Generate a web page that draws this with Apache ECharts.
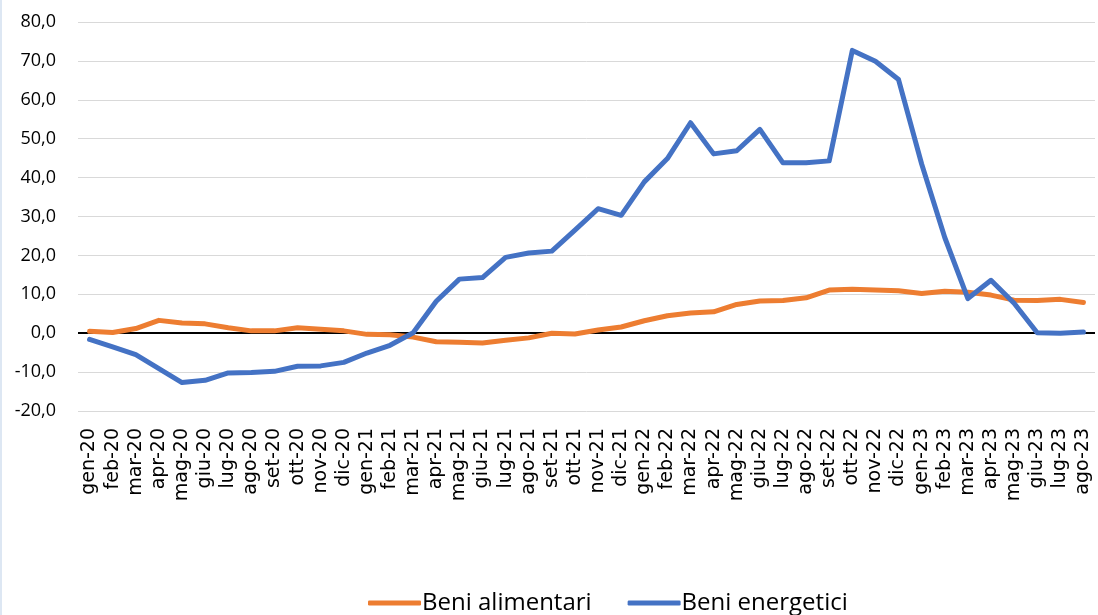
<!DOCTYPE html>
<html>
<head>
<meta charset="utf-8">
<title>Beni alimentari e energetici</title>
<script src="https://cdn.jsdelivr.net/npm/echarts@6/dist/echarts.min.js"></script>
<style>
  html, body { margin: 0; padding: 0; background: #fff; }
  #chart { width: 1098px; height: 615px; }
</style>
</head>
<body>
<div id="chart"></div>
<script>
// mesi da gen-20 a ago-23
const mesi = [
  "gen-20", "feb-20", "mar-20", "apr-20", "mag-20", "giu-20", "lug-20", "ago-20", "set-20", "ott-20", "nov-20", "dic-20",
  "gen-21", "feb-21", "mar-21", "apr-21", "mag-21", "giu-21", "lug-21", "ago-21", "set-21", "ott-21", "nov-21", "dic-21",
  "gen-22", "feb-22", "mar-22", "apr-22", "mag-22", "giu-22", "lug-22", "ago-22", "set-22", "ott-22", "nov-22", "dic-22",
  "gen-23", "feb-23", "mar-23", "apr-23", "mag-23", "giu-23", "lug-23", "ago-23"
];

const beniAlimentari = [
  0.5, 0.2, 1.2, 3.3, 2.6, 2.4, 1.4, 0.6, 0.6, 1.4, 1.0, 0.6,
  -0.3, -0.4, -1.0, -2.2, -2.3, -2.5, -1.8, -1.2, 0.0, -0.2, 0.8, 1.6,
  3.2, 4.5, 5.2, 5.5, 7.4, 8.3, 8.4, 9.1, 11.1, 11.3, 11.1, 10.9,
  10.2, 10.8, 10.5, 9.8, 8.5, 8.4, 8.7, 7.9
];

const beniEnergetici = [
  -1.6, -3.5, -5.5, -9.1, -12.7, -12.1, -10.2, -10.1, -9.8, -8.5, -8.4, -7.5,
  -5.1, -3.1, 0.1, 8.2, 13.9, 14.3, 19.5, 20.6, 21.1, 26.5, 32.0, 30.3,
  38.9, 44.9, 54.1, 46.1, 46.9, 52.4, 43.8, 43.8, 44.3, 72.7, 69.9, 65.2,
  43.5, 24.6, 8.9, 13.6, 7.7, 0.1, 0.0, 0.3
];

const chart = echarts.init(document.getElementById("chart"));

const option = {
  backgroundColor: "#ffffff",
  animation: false,
  color: ["#ED7D31", "#4472C4"],
  graphic: [
    {
      type: "rect",
      left: 0,
      top: 0,
      shape: { width: 2, height: 615 },
      style: { fill: "#dde7f3" },
      silent: true
    }
  ],
  grid: {
    left: 78,
    right: 3,
    top: 22,
    bottom: 204
  },
  legend: {
    bottom: -5,
    left: 363,
    icon: "roundRect",
    itemWidth: 53,
    itemHeight: 5,
    itemGap: 36,
    textStyle: {
      fontFamily: "Open Sans",
      fontSize: 24,
      color: "#000000",
      padding: [0, 0, 0, -4]
    },
    data: ["Beni alimentari", "Beni energetici"]
  },
  xAxis: {
    type: "category",
    data: mesi,
    boundaryGap: true,
    axisLine: { show: false },
    axisTick: { show: false },
    axisLabel: {
      interval: 0,
      rotate: 90,
      margin: 17,
      fontFamily: "DejaVu Sans",
      fontSize: 19,
      color: "#000000"
    },
    splitLine: { show: false }
  },
  yAxis: {
    type: "value",
    min: -20,
    max: 80,
    interval: 10,
    axisLine: { show: false },
    axisTick: { show: false },
    axisLabel: {
      margin: 22,
      fontFamily: "Open Sans",
      fontSize: 18,
      color: "#000000",
      formatter: (v) => v.toFixed(1).replace(".", ",")
    },
    splitLine: { lineStyle: { color: "#d9d9d9", width: 1 } }
  },
  series: [
    {
      name: "Beni alimentari",
      type: "line",
      data: beniAlimentari,
      symbol: "none",
      lineStyle: { width: 5, color: "#ED7D31", cap: "round", join: "round" },
      z: 3,
      markLine: {
        silent: true,
        symbol: "none",
        label: { show: false },
        lineStyle: { color: "#000000", width: 2, type: "solid" },
        data: [{ yAxis: 0 }],
        z: 1
      }
    },
    {
      name: "Beni energetici",
      type: "line",
      data: beniEnergetici,
      symbol: "none",
      lineStyle: { width: 5, color: "#4472C4", cap: "round", join: "round" },
      z: 4
    }
  ]
};

chart.setOption(option);
</script>
</body>
</html>
